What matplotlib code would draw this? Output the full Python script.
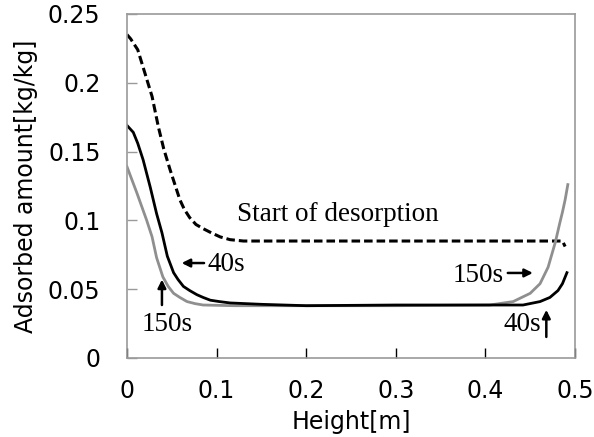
import matplotlib
matplotlib.use("Agg")
import matplotlib.pyplot as plt

# start of desorption (dashed)
x_start = [0, 0.004, 0.008, 0.012, 0.020, 0.028, 0.035, 0.041, 0.048, 0.054, 0.059, 0.064,
           0.070, 0.077, 0.085, 0.094, 0.104, 0.115, 0.13, 0.2, 0.3, 0.4, 0.47, 0.486, 0.489]
y_start = [0.235, 0.232, 0.228, 0.224, 0.207, 0.19, 0.168, 0.152, 0.137, 0.125, 0.115, 0.108,
           0.102, 0.097, 0.094, 0.091, 0.088, 0.086, 0.085, 0.085, 0.085, 0.085, 0.085, 0.085,
           0.081]

# 40 s (black)
x_40 = [0, 0.007, 0.012, 0.018, 0.026, 0.033, 0.039, 0.045, 0.052, 0.057, 0.063, 0.070,
        0.078, 0.085, 0.093, 0.103, 0.115, 0.15, 0.2, 0.3, 0.4, 0.442, 0.461, 0.472, 0.481,
        0.486, 0.491]
y_40 = [0.169, 0.164, 0.156, 0.144, 0.124, 0.105, 0.091, 0.074, 0.062, 0.057, 0.052, 0.049,
        0.046, 0.044, 0.042, 0.041, 0.040, 0.039, 0.038, 0.0385, 0.0385, 0.0385, 0.041, 0.044,
        0.049, 0.054, 0.062]

# 150 s (grey)
x_150 = [0, 0.011, 0.022, 0.028, 0.033, 0.040, 0.046, 0.052, 0.059, 0.067, 0.076, 0.085,
         0.12, 0.2, 0.3, 0.405, 0.431, 0.450, 0.461, 0.470, 0.474, 0.478, 0.483, 0.486,
         0.489, 0.492]
y_150 = [0.139, 0.120, 0.100, 0.088, 0.073, 0.059, 0.052, 0.047, 0.044, 0.041, 0.0395,
         0.0385, 0.038, 0.038, 0.038, 0.0385, 0.041, 0.047, 0.054, 0.066, 0.075, 0.084, 0.098,
         0.106, 0.115, 0.126]

x_ticks = [0, 0.1, 0.2, 0.3, 0.4, 0.5]
x_ticklabels = ["0", "0.1", "0.2", "0.3", "0.4", "0.5"]
y_ticks = [0, 0.05, 0.1, 0.15, 0.2, 0.25]
y_ticklabels = ["0", "0.05", "0.1", "0.15", "0.2", "0.25"]

GREY = "#8f8f8f"
FRAME = "#9a9a9a"
SANS = "DejaVu Sans"
SERIF = "Liberation Serif"

fig = plt.figure(figsize=(5.94, 4.37), dpi=100)
ax = fig.add_axes([0.2138, 0.1808, 0.968 - 0.2138, 0.968 - 0.1808])

ax.plot(x_start, y_start, color="black", lw=2.2, dashes=(2.8, 1.3))
ax.plot(x_150, y_150, color=GREY, lw=2.0)
ax.plot(x_40, y_40, color="black", lw=2.0)

ax.set_xlim(0, 0.5)
ax.set_ylim(0, 0.25)
ax.set_xticks(x_ticks, x_ticklabels, fontsize=17, family=SANS)
ax.set_yticks(y_ticks, y_ticklabels, fontsize=17, family=SANS)
ax.tick_params(axis="x", direction="in", length=7, width=1, color="black", pad=15)
ax.tick_params(axis="y", direction="in", length=7, width=1, color=FRAME, pad=19)
for s in ax.spines.values():
    s.set_color(FRAME)
    s.set_linewidth(1.2)

ax.set_xlabel("Height[m]", fontsize=17, family=SANS, labelpad=5)
ax.set_ylabel("Adsorbed amount[kg/kg]", fontsize=17, family=SANS, labelpad=7)

txt = dict(fontsize=19.5, family=SERIF, color="black")
arr = dict(arrowstyle="-|>", color="black", lw=1.8, mutation_scale=12, shrinkA=0, shrinkB=0)

ax.text(0.123, 0.104, "Start of desorption", ha="left", va="center", **txt)

# 40 s, left side
ax.annotate("", xy=(0.061, 0.069), xytext=(0.086, 0.069), arrowprops=arr)
ax.text(0.090, 0.068, "40s", ha="left", va="center", **txt)
# 150 s, left side
ax.annotate("", xy=(0.039, 0.057), xytext=(0.039, 0.0385), arrowprops=arr)
ax.text(0.045, 0.024, "150s", ha="center", va="center", **txt)
# 150 s, right side
ax.annotate("", xy=(0.453, 0.0618), xytext=(0.425, 0.0618), arrowprops=arr)
ax.text(0.420, 0.060, "150s", ha="right", va="center", **txt)
# 40 s, right side
ax.annotate("", xy=(0.468, 0.035), xytext=(0.468, 0.0153), arrowprops=arr)
ax.text(0.462, 0.024, "40s", ha="right", va="center", **txt)

fig.savefig("out.png", dpi=100)
